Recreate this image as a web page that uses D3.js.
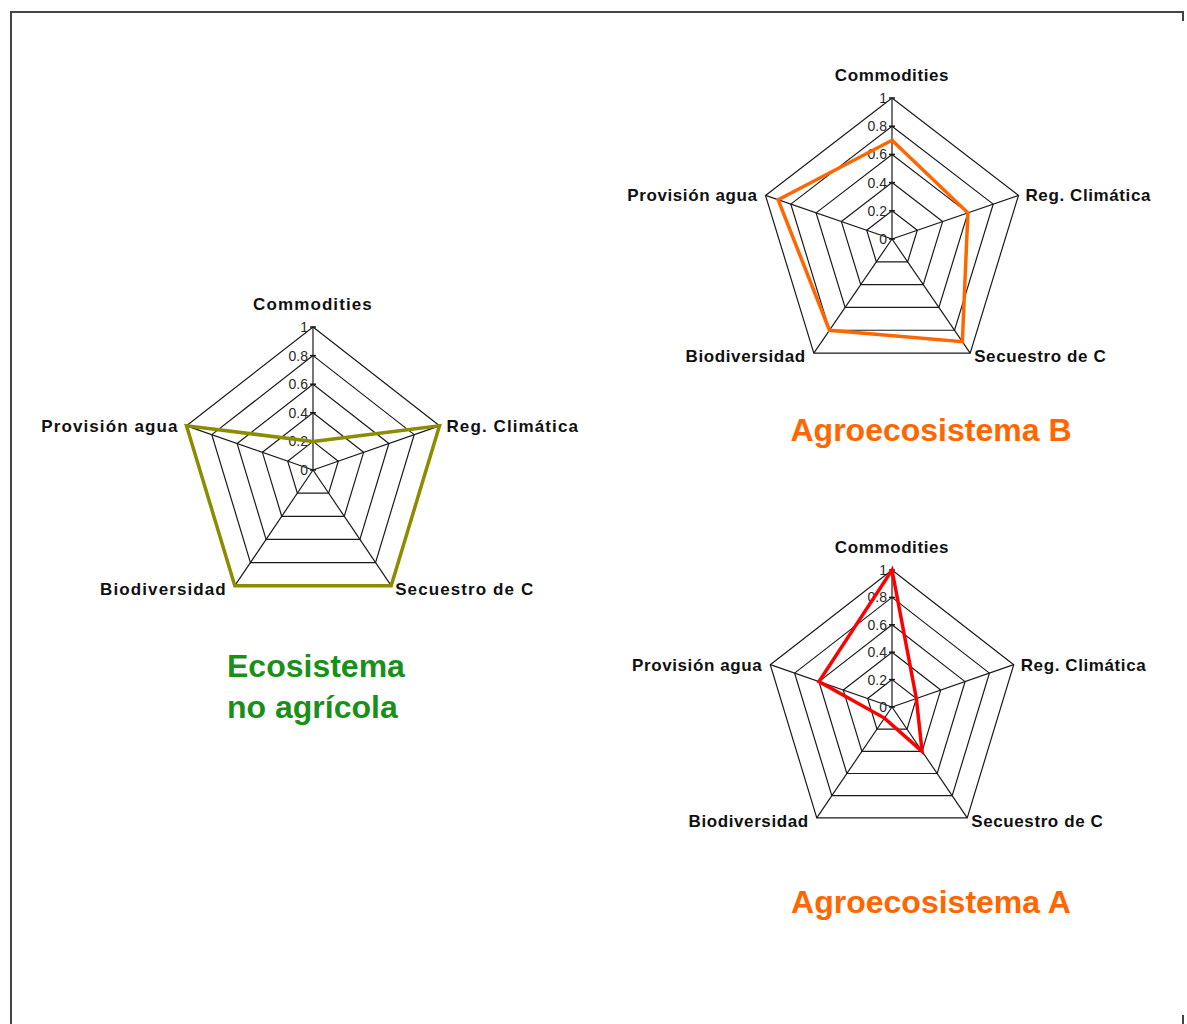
<!DOCTYPE html>
<html>
<head>
<meta charset="utf-8">
<script src="https://cdn.jsdelivr.net/npm/d3@7"></script>
<style>
  body { margin: 0; background: #fff; }
  text { font-family: "Liberation Sans", Arial, sans-serif; }
</style>
</head>
<body>
<script>
var svg_Width = 1187;
var svg_Height = 1024;

// axes of every radar, clockwise from top
var axes = ["Commodities", "Reg. Climática", "Secuestro de C", "Biodiversidad", "Provisión agua"];
var tickValues = [0, 0.2, 0.4, 0.6, 0.8, 1];
var tickLabels = ["0", "0.2", "0.4", "0.6", "0.8", "1"];

// values
var ecosistemaValues = [0.2, 1, 1, 1, 1];
var agroBValues = [0.7, 0.6, 0.9, 0.8, 0.9];
var agroAValues = [1, 0.2, 0.4, 0.1, 0.6];

var svg = d3.select("body")
  .append("svg")
  .attr("width", svg_Width)
  .attr("height", svg_Height);

// frame of the page
svg.append("path")
  .attr("d", "M11,1024 V12 H1183 V21")
  .attr("fill", "none")
  .attr("stroke", "#444")
  .attr("stroke-width", 2);
svg.append("line")
  .attr("x1", 1183).attr("y1", 1015).attr("x2", 1183).attr("y2", 1024)
  .attr("stroke", "#444").attr("stroke-width", 2);

function drawRadar(cx, cy, rx, ry, values, color, spacing) {
  var g = svg.append("g").attr("transform", `translate(${cx}, ${cy})`);
  var rScale = d3.scaleLinear().domain([0, 1]).range([0, 1]);
  var angle = i => (-90 + 72 * i) * Math.PI / 180;
  var px = (i, v) => Math.cos(angle(i)) * rScale(v) * rx;
  var py = (i, v) => Math.sin(angle(i)) * rScale(v) * ry;

  // rings
  tickValues.slice(1).forEach(function (t) {
    g.append("polygon")
      .attr("points", axes.map((a, i) => [px(i, t), py(i, t)].join(",")).join(" "))
      .attr("fill", "none")
      .attr("stroke", "#1a1a1a")
      .attr("stroke-width", 1.2);
  });

  // spokes
  g.selectAll(".spoke")
    .data(axes)
    .enter()
    .append("line")
    .attr("x1", 0).attr("y1", 0)
    .attr("x2", (d, i) => px(i, 1))
    .attr("y2", (d, i) => py(i, 1))
    .attr("stroke", "#1a1a1a")
    .attr("stroke-width", 1.2);

  // tick marks and labels on the top axis
  g.selectAll(".tick")
    .data(tickValues)
    .enter()
    .append("line")
    .attr("x1", -3).attr("x2", 3)
    .attr("y1", d => py(0, d))
    .attr("y2", d => py(0, d))
    .attr("stroke", "#1a1a1a")
    .attr("stroke-width", 1.5);

  g.selectAll(".tickLabel")
    .data(tickValues)
    .enter()
    .append("text")
    .attr("x", -5)
    .attr("y", d => py(0, d))
    .attr("dy", "0.35em")
    .attr("text-anchor", "end")
    .attr("font-size", 14)
    .attr("fill", "#2a2a2a")
    .text((d, i) => tickLabels[i]);

  // data line
  g.append("polygon")
    .attr("points", values.map((v, i) => [px(i, v), py(i, v)].join(",")).join(" "))
    .attr("fill", "none")
    .attr("stroke", color)
    .attr("stroke-width", 3.5)
    .attr("stroke-linejoin", "miter");

  // axis names
  var anchors = ["middle", "start", "start", "end", "end"];
  var dxs = [0, 7, 4, -8, -8];
  var dys = [-17, 6, 9, 9, 6];
  g.selectAll(".axisName")
    .data(axes)
    .enter()
    .append("text")
    .attr("x", (d, i) => px(i, 1) + dxs[i])
    .attr("y", (d, i) => py(i, 1) + dys[i])
    .attr("text-anchor", (d, i) => anchors[i])
    .attr("font-size", 17)
    .attr("letter-spacing", spacing)
    .attr("font-weight", "bold")
    .attr("fill", "#111")
    .text(d => d);
}

drawRadar(313, 470, 133, 143, ecosistemaValues, "#8c8c00", 1.1);
drawRadar(892, 239, 133, 141, agroBValues, "#ff6600", 0.6);
drawRadar(892, 707, 128, 137, agroAValues, "#ff0000", 0.6);

// titles
svg.append("text")
  .attr("x", 227).attr("y", 677)
  .attr("font-size", 32).attr("font-weight", "bold")
  .attr("fill", "#1a8f1a")
  .text("Ecosistema");
svg.append("text")
  .attr("x", 227).attr("y", 718)
  .attr("font-size", 32).attr("font-weight", "bold")
  .attr("fill", "#1a8f1a")
  .text("no agrícola");

svg.append("text")
  .attr("x", 931).attr("y", 441)
  .attr("text-anchor", "middle")
  .attr("font-size", 32).attr("font-weight", "bold")
  .attr("fill", "#ff6600")
  .text("Agroecosistema B");
svg.append("text")
  .attr("x", 931).attr("y", 913)
  .attr("text-anchor", "middle")
  .attr("font-size", 32).attr("font-weight", "bold")
  .attr("fill", "#ff6600")
  .text("Agroecosistema A");
</script>
</body>
</html>
